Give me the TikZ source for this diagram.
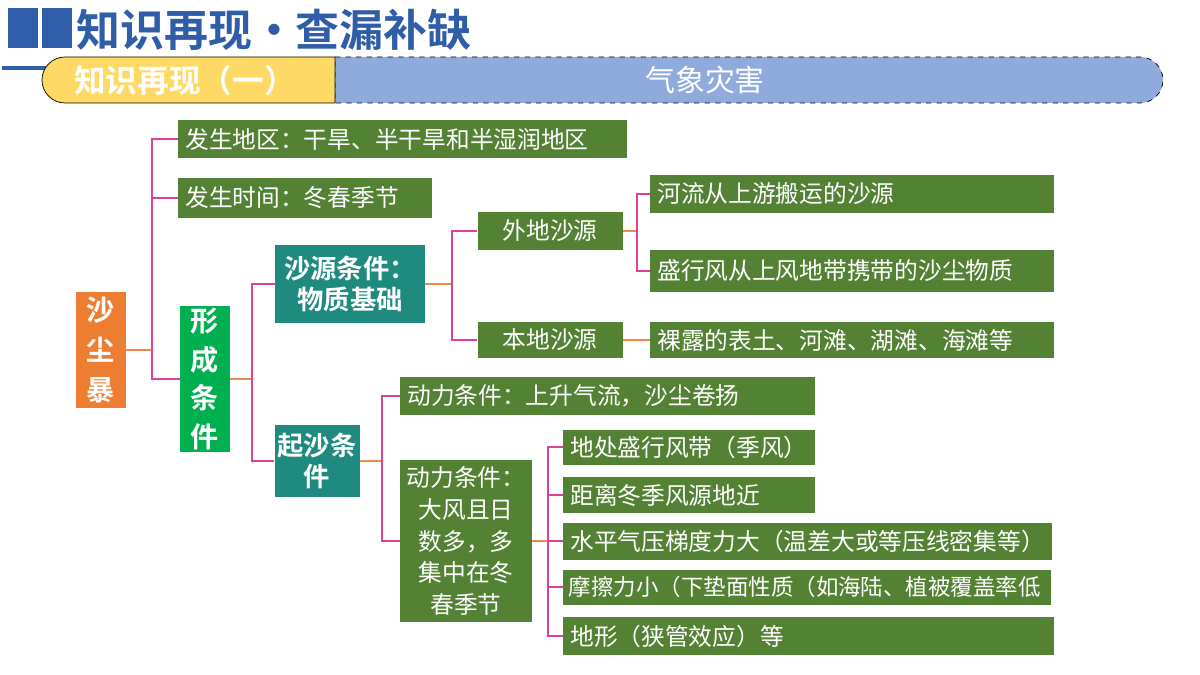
\documentclass[tikz,border=0pt]{standalone}
\usepackage{fontspec}
\setmainfont{Noto Sans CJK SC}[BoldFont={Noto Sans CJK SC Bold}]
\usetikzlibrary{positioning}
\definecolor{leafgreen}{HTML}{548235}
\definecolor{tealbox}{HTML}{1F8A80}
\definecolor{rootorange}{HTML}{ED7D31}
\definecolor{midgreen}{HTML}{00B050}
\definecolor{treeline}{HTML}{E0409A}
\definecolor{stubline}{HTML}{F08A4B}
\definecolor{titleblue}{HTML}{2F5DA8}
\definecolor{barblue}{HTML}{8FAADC}
\definecolor{tabyellow}{HTML}{FFD966}
\newcommand\pxu{0.02cm}
\begin{document}
\begin{tikzpicture}[
    x=0.02cm, y=-0.02cm,
    every node/.style={font=\fontsize{13.5}{16}\selectfont, inner sep=0pt},
    leaf/.style={fill=leafgreen, text=white, anchor=west, align=left, inner xsep=4pt},
    keybox/.style={fill=tealbox, text=white, font=\fontsize{15}{18}\selectfont\bfseries, align=center},
    branch/.style={treeline, line width=1.2pt},
    stub/.style={stubline, line width=1.6pt}
]
    \useasboundingbox (0,0) rectangle (1200,675);
    % header
    \fill[titleblue] (8,8) rectangle (38,48);
    \fill[titleblue] (42,8) rectangle (72,48);
    \fill[titleblue] (2,66) rectangle (60,70);
    \node[anchor=west] (title) at (76,30) {\fontsize{25}{27}\selectfont\bfseries\color{titleblue}知识再现·查漏补缺};
    \filldraw[fill=barblue, draw=black, dashed, thin]
        (335,57) -- (1140,57) arc (90:-90:23*\pxu) -- (335,103) -- cycle;
    \filldraw[fill=tabyellow, draw=black, thin]
        (335,57) -- (65,57) arc (90:270:23*\pxu) -- (335,103) -- cycle;
    \node (tab) at (185,80) {\fontsize{18}{20}\selectfont\bfseries\color{white}知识再现（一）};
    \node (topic) at (705,80) {\fontsize{17}{20}\selectfont\color{white}气象灾害};

    % tree nodes
    \node[fill=rootorange, text=white, font=\fontsize{16}{23}\selectfont\bfseries,
          minimum width=50*\pxu, minimum height=116*\pxu, align=center] (dust) at (101,350) {沙\\尘\\暴};
    \node[fill=midgreen, text=white, font=\fontsize{16}{22}\selectfont\bfseries,
          minimum width=50*\pxu, minimum height=146*\pxu, align=center] (form) at (205,379) {形\\成\\条\\件};
    \node[leaf, text width=435*\pxu, minimum height=38*\pxu] (region) at (178,139) {发生地区：干旱、半干旱和半湿润地区};
    \node[leaf, text width=240*\pxu, minimum height=40*\pxu] (season) at (178,198) {发生时间：冬春季节};
    \node[keybox, minimum width=150*\pxu, minimum height=78*\pxu] (source) at (350,284) {沙源条件：\\物质基础};
    \node[keybox, minimum width=85*\pxu, minimum height=72*\pxu] (lift) at (317,461) {起沙条\\件};
    \node[leaf, minimum width=145*\pxu, minimum height=38*\pxu, align=center, anchor=center] (remote) at (550,231) {外地沙源};
    \node[leaf, minimum width=145*\pxu, minimum height=36*\pxu, align=center, anchor=center] (local) at (550,340) {本地沙源};
    \node[leaf, text width=390*\pxu, minimum height=38*\pxu] (river) at (650,194) {河流从上游搬运的沙源};
    \node[leaf, text width=390*\pxu, minimum height=42*\pxu] (wind) at (650,271) {盛行风从上风地带携带的沙尘物质};
    \node[leaf, text width=390*\pxu, minimum height=36*\pxu] (bare) at (650,340) {裸露的表土、河滩、湖滩、海滩等};
    \node[leaf, text width=401*\pxu, minimum height=38*\pxu] (updraft) at (400,396) {动力条件：上升气流，沙尘卷扬};
    \node[leaf, minimum width=132*\pxu, minimum height=162*\pxu, anchor=center, align=center,
          inner xsep=2pt, font=\fontsize{13.5}{18}\selectfont] (gale) at (466,541) {动力条件：\\大风且日\\数多，多\\集中在冬\\春季节};
    \node[leaf, text width=238*\pxu, minimum height=35*\pxu] (belt) at (563,447) {地处盛行风带（季风）};
    \node[leaf, text width=238*\pxu, minimum height=36*\pxu] (near) at (563,495) {距离冬季风源地近};
    \node[leaf, text width=475*\pxu, minimum height=37*\pxu] (grad) at (563,541) {水平气压梯度力大（温差大或等压线密集等）};
    \node[leaf, text width=477*\pxu, minimum height=35*\pxu, inner xsep=3pt,
          font=\fontsize{12.8}{16}\selectfont] (fric) at (563,587) {摩擦力小（下垫面性质（如海陆、植被覆盖率低};
    \node[leaf, text width=477*\pxu, minimum height=38*\pxu] (terrain) at (563,636) {地形（狭管效应）等};

    % connectors
    \draw[stub] (dust.east) -- (152,350);
    \draw[branch] (region.west) -| (152,350) |- (form.west);
    \draw[branch] (season.west) -- (152,198);
    \draw[stub] (form.east) -- (252,379);
    \draw[branch] (source.west) -| (252,379) |- (lift.west);
    \draw[stub] (source.east) -- (452,284);
    \draw[branch] (remote.west) -| (452,284) |- (local.west);
    \draw[stub] (remote.east) -- (637,231);
    \draw[branch] (river.west) -| (637,231) |- (wind.west);
    \draw[stub] (local.east) -- (bare.west);
    \draw[stub] (lift.east) -- (382,461);
    \draw[branch] (updraft.west) -| (382,461) |- (gale.west);
    \draw[stub] (gale.east) -- (548,541);
    \draw[branch] (belt.west) -| (548,541) |- (terrain.west);
    \draw[branch] (near.west) -- (548,495);
    \draw[branch] (grad.west) -- (548,541);
    \draw[branch] (fric.west) -- (548,587);
\end{tikzpicture}
\end{document}
